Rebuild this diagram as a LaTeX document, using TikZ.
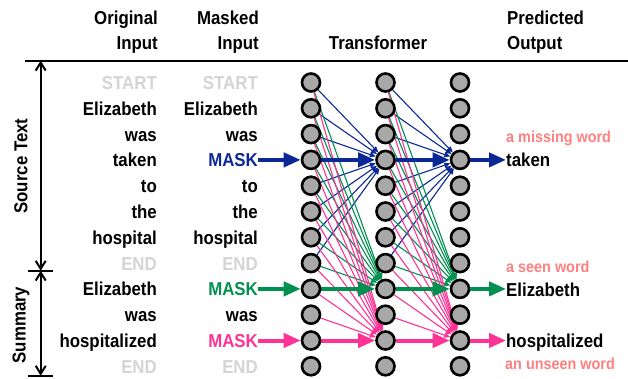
\documentclass[tikz,border=0pt]{standalone}
\usepackage{fontspec}
\setmainfont[FakeStretch=0.9]{Liberation Sans}
\usetikzlibrary{arrows.meta,backgrounds}
\definecolor{maskblue}{RGB}{12,40,150}
\definecolor{maskgreen}{RGB}{0,145,80}
\definecolor{maskpink}{RGB}{255,50,150}
\definecolor{endgray}{RGB}{212,212,212}
\definecolor{notered}{RGB}{255,128,128}
\definecolor{cellgray}{RGB}{168,168,168}

\begin{document}
\begin{tikzpicture}[x=1pt,y=-1pt,
    word/.style={anchor=base east,inner sep=0pt,font=\bfseries\fontsize{18.7}{25.3}\selectfont},
    head/.style={inner sep=0pt,font=\bfseries\fontsize{18.7}{25.3}\selectfont},
    note/.style={anchor=base west,inner sep=0pt,text=notered,font=\bfseries\fontsize{16}{18}\selectfont},
    cell/.style={circle,draw=black,fill=cellgray,line width=2.6pt,minimum size=18pt,inner sep=0pt},
    thin/.style={line width=1.1pt,-{Triangle[length=6pt,width=5pt]}},
    fat/.style={line width=4pt,-{Triangle[length=17pt,width=14pt]}},
    bar/.style={line width=2pt}]
    \useasboundingbox (0,0) rectangle (628,379);
    % headers
    \node[head,anchor=base east,align=right] (h-orig) at (158,50) {Original\\Input};
    \node[head,anchor=base east,align=right] (h-mask) at (259,50) {Masked\\Input};
    \node[head,anchor=base] (h-trans) at (378,50) {Transformer};
    \node[head,anchor=base west,align=left] (h-out) at (507,50) {Predicted\\Output};
    \coordinate (rule-l) at (25,60.7);
    \coordinate (rule-r) at (628,60.7);
    \draw[bar] (rule-l) -- (rule-r);
    % left axis
    \coordinate (ax-top) at (40.7,60.7);
    \coordinate (ax-mid) at (40.7,270.7);
    \coordinate (ax-bot) at (40.7,375.7);
    \coordinate (mid-l) at (28,270.7);
    \coordinate (mid-r) at (53,270.7);
    \coordinate (bot-l) at (28,375.7);
    \coordinate (bot-r) at (53,375.7);
    \draw[bar,{Straight Barb[length=8pt,width=10pt]}-{Straight Barb[length=8pt,width=10pt]}] (ax-top) -- (ax-mid);
    \draw[bar,{Straight Barb[length=8pt,width=10pt]}-{Straight Barb[length=8pt,width=10pt]}] (ax-mid) -- (ax-bot);
    \draw[bar] (mid-l) -- (mid-r);
    \draw[bar] (bot-l) -- (bot-r);
    \node[head,rotate=90] (src) at (21,166) {Source Text};
    \node[head,rotate=90] (sum) at (21,325) {Summary};
    % words
    \foreach \w/\c [count=\i from 0] in {START/endgray,Elizabeth/black,was/black,taken/black,to/black,the/black,hospital/black,END/endgray,Elizabeth/black,was/black,hospitalized/black,END/endgray}
        \node[word,text=\c] (orig-\i) at (157,89.5+25.8*\i) {\w};
    \foreach \w/\c [count=\i from 0] in {START/endgray,Elizabeth/black,was/black,MASK/maskblue,to/black,the/black,hospital/black,END/endgray,MASK/maskgreen,was/black,MASK/maskpink,END/endgray}
        \node[word,text=\c] (mask-\i) at (258,89.5+25.8*\i) {\w};
    % transformer cells
    \foreach \i in {0,...,11} {
        \node[cell] (a-\i) at (311,82.5+25.8*\i) {};
        \node[cell] (b-\i) at (385.5,82.5+25.8*\i) {};
        \node[cell] (c-\i) at (460,82.5+25.8*\i) {};
    }
    % outputs
    \node[word,anchor=base west] (out-3) at (506,167) {taken};
    \node[word,anchor=base west] (out-8) at (506,296) {Elizabeth};
    \node[word,anchor=base west] (out-10) at (506,347.5) {hospitalized};
    \node[note] (n-miss) at (506,143) {a missing word};
    \node[note] (n-seen) at (506,272.7) {a seen word};
    \node[note] (n-unseen) at (505,369.5) {an unseen word};
    % attention
    \begin{scope}[on background layer]
        \foreach \j in {0,1,2,4,5,6,7} {
            \draw[thin,maskblue] (a-\j) -- (b-3);
            \draw[thin,maskblue] (b-\j) -- (c-3);
        }
        \foreach \j in {0,...,7} {
            \draw[thin,maskgreen] (a-\j) -- (b-8);
            \draw[thin,maskgreen] (b-\j) -- (c-8);
        }
        \foreach \j in {0,...,9} {
            \draw[thin,maskpink] (a-\j) -- (b-10);
            \draw[thin,maskpink] (b-\j) -- (c-10);
        }
        \draw[fat,maskblue] (a-3) -- (b-3);
        \draw[fat,maskblue] (b-3) -- (c-3);
        \draw[fat,maskgreen] (a-8) -- (b-8);
        \draw[fat,maskgreen] (b-8) -- (c-8);
        \draw[fat,maskpink] (a-10) -- (b-10);
        \draw[fat,maskpink] (b-10) -- (c-10);
    \end{scope}
    \draw[fat,maskblue] (mask-3.east |- a-3) -- (a-3);
    \draw[fat,maskgreen] (mask-8.east |- a-8) -- (a-8);
    \draw[fat,maskpink] (mask-10.east |- a-10) -- (a-10);
    \draw[fat,maskblue] (c-3) -- (c-3 -| out-3.west);
    \draw[fat,maskgreen] (c-8) -- (c-8 -| out-8.west);
    \draw[fat,maskpink] (c-10) -- (c-10 -| out-10.west);
\end{tikzpicture}
\end{document}
